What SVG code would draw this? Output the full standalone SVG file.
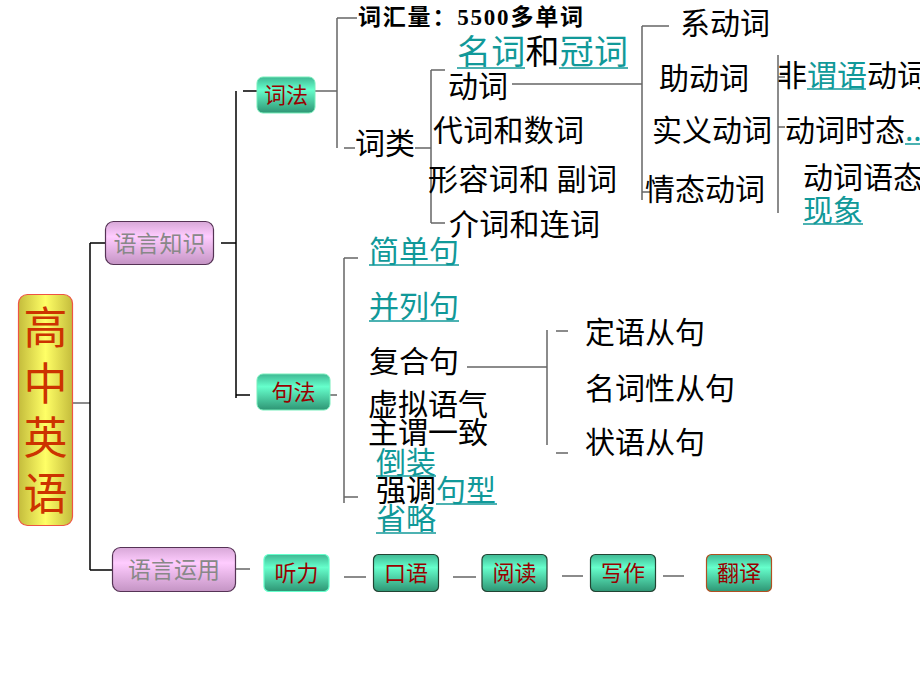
<svg xmlns="http://www.w3.org/2000/svg" width="920" height="690" viewBox="0 0 920 690">
<defs>
<linearGradient id="gY" x1="0" y1="0" x2="1" y2="0">
<stop offset="0" stop-color="#c4bc3c"/><stop offset="0.5" stop-color="#ffff66"/><stop offset="1" stop-color="#c4bc3c"/>
</linearGradient>
<linearGradient id="gP" x1="0" y1="0" x2="0" y2="1">
<stop offset="0" stop-color="#d8a8d8"/><stop offset="0.35" stop-color="#ffccff"/><stop offset="1" stop-color="#c494c4"/>
</linearGradient>
<linearGradient id="gG" x1="0" y1="0" x2="0" y2="1">
<stop offset="0" stop-color="#3fb893"/><stop offset="0.35" stop-color="#66ffcc"/><stop offset="1" stop-color="#2e9574"/>
</linearGradient>
<style>
.t{font-family:"Noto Sans CJK SC","Noto Sans",sans-serif;}
.blk{font-size:30px;fill:#000;}
.lk{fill:#119999;}
.ln{stroke:#666;stroke-width:1.5;fill:none;}
.lb{stroke:#000;stroke-width:1.5;fill:none;}
.ul{stroke:#119999;stroke-width:1.5;}
.gn{fill:url(#gG);}
.nt{font-size:22px;fill:#990000;text-anchor:middle;}
.pt{font-size:23px;fill:#888;text-anchor:middle;}
</style>
</defs>
<rect width="920" height="690" fill="#fff"/>

<g id="connectors">
<path class="ln" d="M72 403 H90"/>
<path class="lb" d="M90 243 V570 M90 243 H105 M90 570 H112"/>
<path class="lb" d="M221 243 H236 M236 91 V398 M243 91 H257 M236 395 H250"/>
<path class="ln" d="M315 91 H337 M337 18 V148 M337 18 H357 M344 148 H355"/>
<path class="ln" d="M415 148 H431 M431 70 V223 M431 70 H445 M431 223 H445"/>
<path class="ln" d="M512 84 H642 M642 26 V200 M642 26 H669 M642 192 H650"/>
<path class="ln" d="M778 55 V213 M778 77 H785 M778 127 H785"/>
<path class="ln" d="M330 395 H337 M344 258 V503 M344 258 H358 M344 497 H358"/>
<path class="ln" d="M467 367 H547 M547 330 V445 M556 331 H568 M556 453 H568"/>
<path class="ln" d="M236 569 H250 M344 577 H366 M453 577 H476 M562 576 H583 M663 576 H684"/>
</g>

<g id="n-root">
<rect x="18.5" y="294.5" width="54" height="231" rx="9" fill="url(#gY)" stroke="#ee5544" stroke-width="1.2"/>
<g class="t" font-size="44" fill="#cc3300" text-anchor="middle">
<text x="45.5" y="344">高</text><text x="45.5" y="400">中</text><text x="45.5" y="454">英</text><text x="45.5" y="510">语</text>
</g>
</g>

<g id="n-yyzs">
<rect x="105.5" y="221.5" width="108" height="43" rx="8" fill="url(#gP)" stroke="#553355" stroke-width="1.2"/>
<text class="t pt" x="159.5" y="252">语言知识</text>
</g>
<g id="n-yyyy">
<rect x="112.5" y="547.5" width="123" height="44" rx="8" fill="url(#gP)" stroke="#553355" stroke-width="1.2"/>
<text class="t pt" x="174" y="578">语言运用</text>
</g>

<g id="n-cifa">
<rect class="gn" x="257" y="77" width="58" height="36" rx="6" stroke="#77eebb" stroke-width="1"/>
<text class="t nt" x="286" y="103">词法</text>
</g>
<g id="n-jufa">
<rect class="gn" x="257" y="374" width="73" height="36" rx="6" stroke="#77eebb" stroke-width="1"/>
<text class="t nt" x="293.5" y="400">句法</text>
</g>

<g id="n-tingli">
<rect class="gn" x="264" y="554.5" width="65" height="37" rx="5" stroke="#66ffcc" stroke-width="1.2"/>
<text class="t nt" x="296.5" y="581">听力</text>
</g>
<g id="n-kouyu">
<rect class="gn" x="373.5" y="554.5" width="65" height="37" rx="5" stroke="#224433" stroke-width="1.2"/>
<text class="t nt" x="406" y="581">口语</text>
</g>
<g id="n-yuedu">
<rect class="gn" x="482" y="554.5" width="65" height="37" rx="5" stroke="#224433" stroke-width="1.2"/>
<text class="t nt" x="514.5" y="581">阅读</text>
</g>
<g id="n-xiezuo">
<rect class="gn" x="590.5" y="554.5" width="65" height="37" rx="5" stroke="#224433" stroke-width="1.2"/>
<text class="t nt" x="623" y="581">写作</text>
</g>
<g id="n-fanyi">
<rect class="gn" x="706.5" y="554.5" width="65" height="37" rx="5" stroke="#b05020" stroke-width="1.2"/>
<text class="t nt" x="739" y="581">翻译</text>
</g>

<g id="n-cihuiliang">
<text x="358" y="25" font-size="23" font-weight="bold" font-family="Liberation Serif,Noto Sans CJK SC,serif" textLength="225">词汇量：5500多单词</text>
</g>
<g id="n-cilei"><text class="t blk" x="355" y="154">词类</text></g>

<g id="n-mingci">
<text class="t" x="457" y="64" font-size="34" textLength="171"><tspan class="lk">名词</tspan>和<tspan class="lk">冠词</tspan></text>
<line class="ul" x1="457" y1="68" x2="525" y2="68"/><line class="ul" x1="559" y1="68" x2="628" y2="68"/>
</g>
<g id="n-dongci"><text class="t blk" x="448" y="97">动词</text></g>
<g id="n-daici"><text class="t blk" x="433" y="141" textLength="151">代词和数词</text></g>
<g id="n-xingrong"><text class="t blk" x="428" y="190" textLength="189" xml:space="preserve">形容词和 副词</text></g>
<g id="n-jieci"><text class="t blk" x="449" y="235" textLength="151">介词和连词</text></g>

<g id="n-xidongci"><text class="t blk" x="680" y="34">系动词</text></g>
<g id="n-zhudongci"><text class="t blk" x="659" y="89">助动词</text></g>
<g id="n-shiyi"><text class="t blk" x="652" y="141">实义动词</text></g>
<g id="n-qingtai"><text class="t blk" x="645" y="200">情态动词</text></g>

<g id="n-feiweiyu">
<text class="t blk" x="777" y="86">非<tspan class="lk">谓语</tspan>动词</text>
<line class="ul" x1="807" y1="89" x2="866" y2="89"/>
</g>
<g id="n-shitai">
<text class="t blk" x="785" y="141">动词时态<tspan class="lk">..</tspan></text>
<line class="ul" x1="905" y1="144" x2="920" y2="144"/>
</g>
<g id="n-yutai">
<text class="t blk" x="803" y="188">动词语态</text>
<text class="t blk lk" x="803" y="221">现象</text>
<line class="ul" x1="803" y1="224" x2="863" y2="224"/>
</g>

<g id="n-jiandan"><text class="t blk lk" x="369" y="262">简单句</text><line class="ul" x1="369" y1="265" x2="459" y2="265"/></g>
<g id="n-binglie"><text class="t blk lk" x="369" y="317">并列句</text><line class="ul" x1="369" y1="321" x2="459" y2="321"/></g>
<g id="n-fuhe"><text class="t blk" x="369" y="372">复合句</text></g>
<g id="n-xuni"><text class="t blk" x="368" y="415">虚拟语气</text></g>
<g id="n-zhuwei"><text class="t blk" x="368" y="443">主谓一致</text></g>
<g id="n-daozhuang"><text class="t blk lk" x="376" y="473">倒装</text><line class="ul" x1="376" y1="476" x2="436" y2="476"/></g>
<g id="n-qiangdiao"><text class="t blk" x="376" y="501">强调<tspan class="lk">句型</tspan></text><line class="ul" x1="436" y1="504" x2="497" y2="504"/></g>
<g id="n-shenglue"><text class="t blk lk" x="376" y="529">省略</text><line class="ul" x1="376" y1="533" x2="436" y2="533"/></g>

<g id="n-dingyu"><text class="t blk" x="585" y="343">定语从句</text></g>
<g id="n-mingcixing"><text class="t blk" x="585" y="399">名词性从句</text></g>
<g id="n-zhuangyu"><text class="t blk" x="585" y="453">状语从句</text></g>
</svg>
